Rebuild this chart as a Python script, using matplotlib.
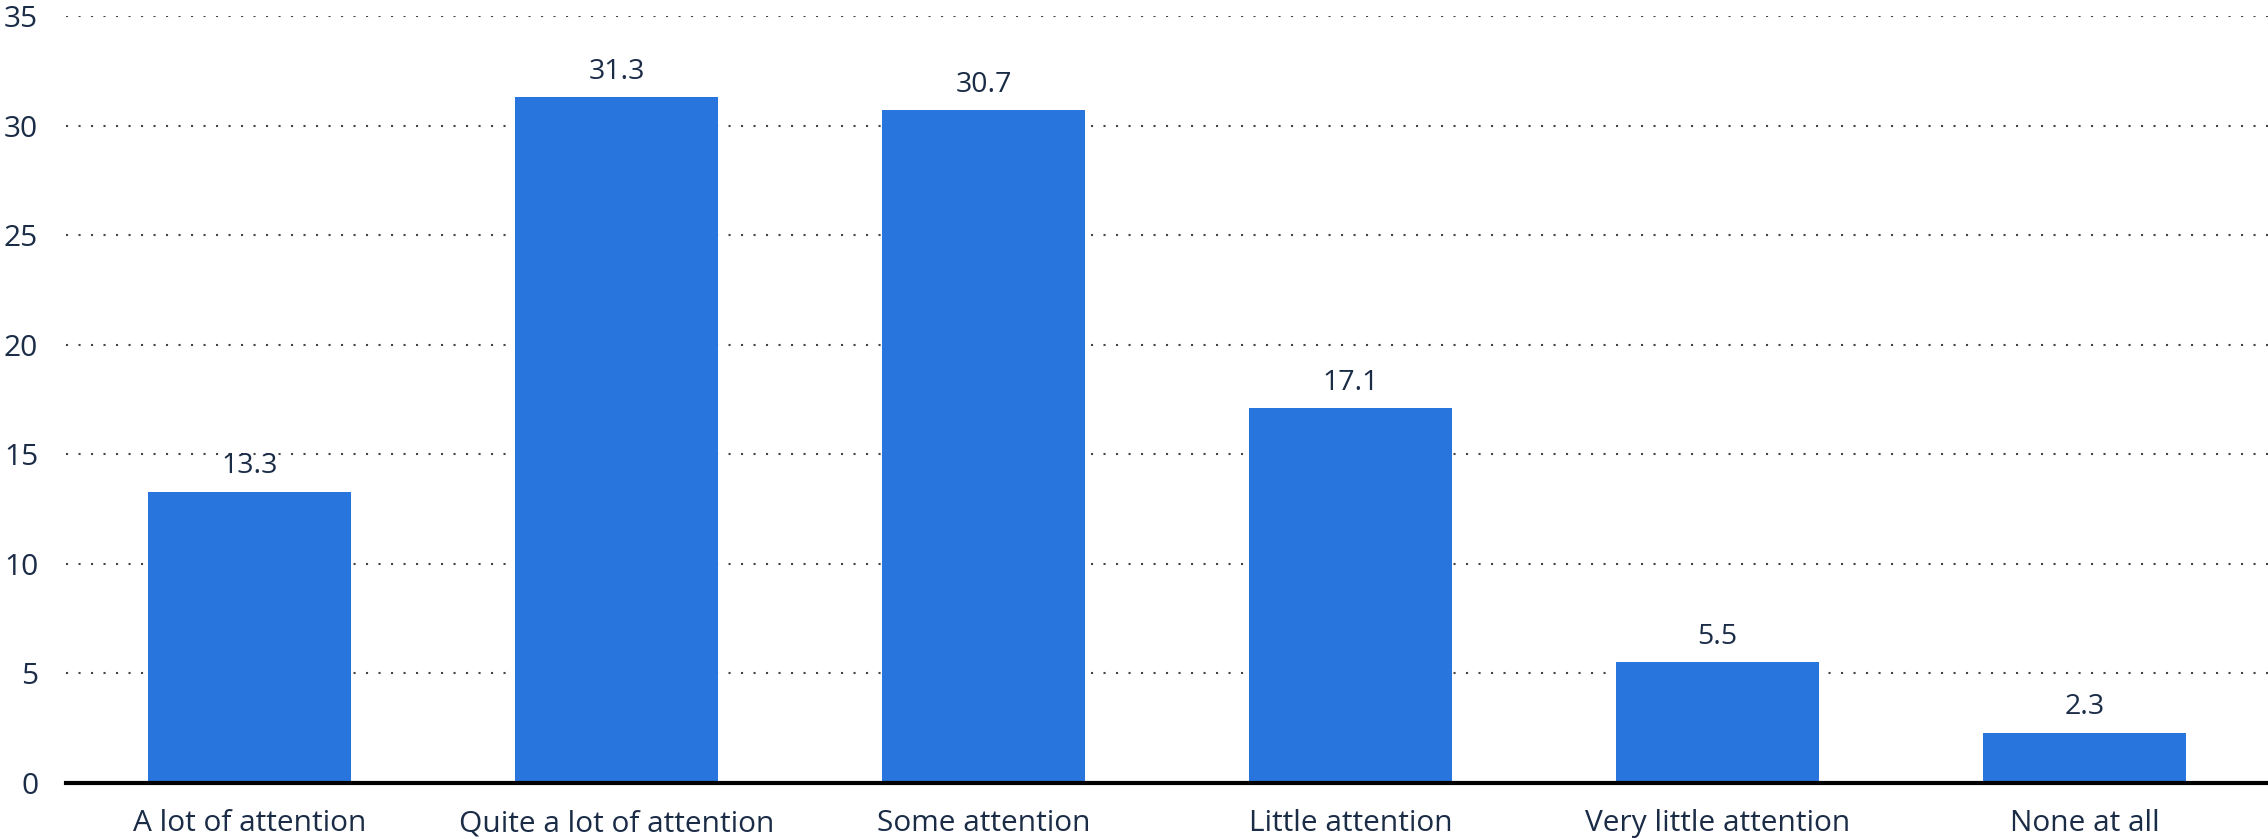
import matplotlib.pyplot as plt
import numpy as np

categories = ["A lot of attention", "Quite a lot of attention", "Some attention",
              "Little attention", "Very little attention", "None at all"]
values = [13.3, 31.3, 30.7, 17.1, 5.5, 2.3]
yticks = [0, 5, 10, 15, 20, 25, 30, 35]

plt.rcParams['font.family'] = ['Open Sans', 'DejaVu Sans']
text_color = '#1b2c47'
bar_color = '#2876dd'

fig = plt.figure(figsize=(22.68, 8.39), dpi=100)
ax = fig.add_axes([66 / 2268, 1 - 783 / 839, 1 - 66 / 2268, (783 - 16) / 839])

x = np.arange(len(categories))
bars = ax.bar(x, values, width=0.555, color=bar_color, zorder=2)
ax.bar_label(bars, labels=[f"{v:.1f}" for v in values], padding=8,
             fontsize=20.5, color=text_color)

ax.set_xlim(-0.5, len(categories) - 0.5)
ax.set_ylim(0, 35)
ax.set_yticks(yticks)
ax.set_xticks(x)
ax.set_xticklabels(categories)
ax.tick_params(axis='both', length=0, labelsize=21.5, labelcolor=text_color)
ax.tick_params(axis='y', pad=20)
ax.tick_params(axis='x', pad=19)

ax.yaxis.grid(True, linestyle=(0, (1, 5)), linewidth=1.5, color='#444444', zorder=0)
ax.set_axisbelow(True)
for s in ['top', 'right', 'left']:
    ax.spines[s].set_visible(False)
ax.spines['bottom'].set_linewidth(3)
ax.spines['bottom'].set_color('black')
ax.spines['bottom'].set_zorder(3)

fig.savefig('out.png', dpi=100)
